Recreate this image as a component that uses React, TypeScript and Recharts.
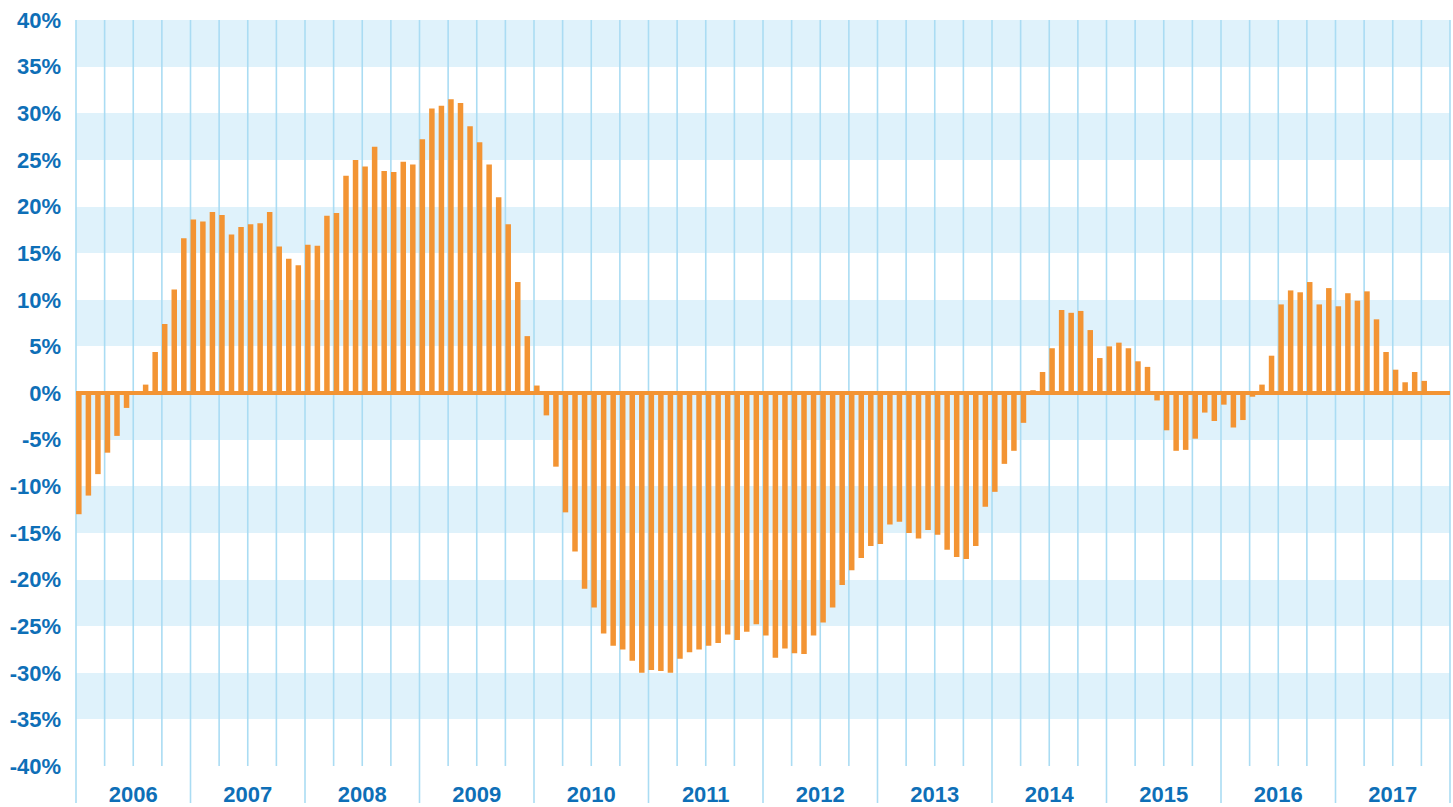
import { Bar, BarChart, CartesianGrid, ReferenceLine, XAxis, YAxis } from 'recharts';

const years = ['2006', '2007', '2008', '2009', '2010', '2011', '2012', '2013', '2014', '2015', '2016', '2017'];

// monthly values, %
const v2006 = [-13.0, -11.0, -8.7, -6.4, -4.6, -1.6, 0, 0.9, 4.4, 7.4, 11.1, 16.6];
const v2007 = [18.6, 18.4, 19.4, 19.1, 17.0, 17.8, 18.1, 18.2, 19.4, 15.7, 14.4, 13.7];
const v2008 = [15.9, 15.8, 19.0, 19.3, 23.3, 25.0, 24.3, 26.4, 23.8, 23.7, 24.8, 24.5];
const v2009 = [27.2, 30.5, 30.8, 31.5, 31.1, 28.6, 26.9, 24.5, 21.0, 18.1, 11.9, 6.1];
const v2010 = [0.8, -2.4, -7.9, -12.8, -17.0, -21.0, -23.0, -25.8, -27.1, -27.5, -28.7, -30.0];
const v2011 = [-29.7, -29.8, -30.0, -28.5, -27.8, -27.5, -27.1, -26.8, -25.9, -26.5, -25.6, -24.8];
const v2012 = [-26.0, -28.4, -27.4, -27.9, -28.0, -26.0, -24.6, -23.0, -20.6, -19.0, -17.7, -16.4];
const v2013 = [-16.2, -14.1, -13.8, -15.0, -15.6, -14.7, -15.2, -16.8, -17.6, -17.8, -16.4, -12.2];
const v2014 = [-10.6, -7.6, -6.2, -3.2, 0.3, 2.25, 4.8, 8.9, 8.6, 8.8, 6.75, 3.75];
const v2015 = [5.0, 5.4, 4.8, 3.4, 2.8, -0.8, -4.0, -6.2, -6.1, -4.9, -2.1, -3.0];
const v2016 = [-1.25, -3.7, -2.9, -0.4, 0.9, 4.0, 9.5, 11.0, 10.8, 11.9, 9.5, 11.25];
const v2017 = [9.3, 10.7, 9.9, 10.9, 7.9, 4.4, 2.5, 1.15, 2.25, 1.3, null, null];

const yTicks = [-40, -35, -30, -25, -20, -15, -10, -5, 0, 5, 10, 15, 20, 25, 30, 35, 40];

const values = [v2006, v2007, v2008, v2009, v2010, v2011, v2012, v2013, v2014, v2015, v2016, v2017].flat();
const data = values.map((v, i) => ({ m: i, label: `${years[Math.floor(i / 12)]}-${(i % 12) + 1}`, v }));

// bars sit near the left edge of each month slot
const SHIFT = 0.3;
const yearStarts = [...years.map((_, k) => k * 12 - SHIFT), years.length * 12 - SHIFT];
const yearMids = years.map((_, k) => k * 12 + 6 - SHIFT);

const BLUE = '#0e6fb7';
const ORANGE = '#f39433';
const LINE = '#aadcf3';
const BAND = '#dff2fb';
const FONT = '"Liberation Sans", Arial, sans-serif';

const YearTick = (props: any) => {
  const { x, y, payload } = props;
  const val = payload.value as number;
  if (yearStarts.some((s) => Math.abs(s - val) < 1e-6)) {
    return <line x1={x} x2={x} y1={y} y2={y + 37} stroke={LINE} strokeWidth={1.6} />;
  }
  const idx = yearMids.findIndex((s) => Math.abs(s - val) < 1e-6);
  return (
    <text x={x} y={y + 36} textAnchor="middle" fill={BLUE} fontFamily={FONT} fontWeight={700} fontSize={22}>
      {years[idx]}
    </text>
  );
};

export default function App() {
  return (
    <div style={{ position: 'absolute', left: 0, top: 0, background: '#fff' }}>
      <BarChart width={1453} height={807} data={data} margin={{ top: 20, right: 3, bottom: 0, left: 0 }}>
        <CartesianGrid
          stroke={LINE}
          strokeWidth={1.6}
          horizontal={() => null}
          horizontalFill={[BAND, 'transparent']}
          horizontalCoordinatesGenerator={({ offset }: any) =>
            yTicks.map((_, k) => offset.top + (offset.height * k) / (yTicks.length - 1))
          }
          verticalCoordinatesGenerator={({ offset }: any) =>
            Array.from({ length: 49 }, (_, k) => offset.left + (offset.width * k) / 48)
          }
        />
        <XAxis
          type="number"
          dataKey="m"
          domain={[-SHIFT, years.length * 12 - SHIFT]}
          ticks={[...yearStarts, ...yearMids]}
          interval={0}
          tick={<YearTick />}
          tickSize={0}
          tickMargin={0}
          axisLine={false}
          tickLine={false}
          height={41}
          allowDataOverflow
        />
        <YAxis
          type="number"
          domain={[-40, 40]}
          ticks={yTicks}
          interval={0}
          tickFormatter={(value) => `${value}%`}
          tick={{ fill: BLUE, fontFamily: FONT, fontWeight: 700, fontSize: 22 }}
          tickSize={0}
          tickMargin={15}
          axisLine={false}
          tickLine={false}
          width={76}
        />
        <Bar dataKey="v" fill={ORANGE} barSize={5.5} isAnimationActive={false} />
        <ReferenceLine y={0} stroke={ORANGE} strokeWidth={4} />
      </BarChart>
    </div>
  );
}
